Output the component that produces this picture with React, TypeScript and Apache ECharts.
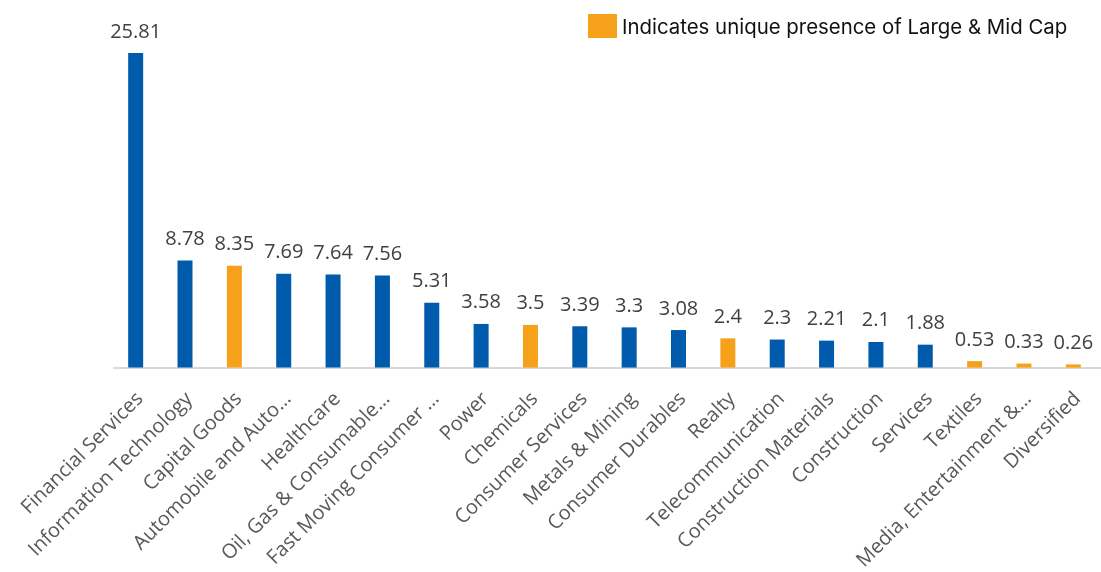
import React, { useEffect, useRef } from "react";
import * as echarts from "echarts";

const categories = [
  "Financial Services",
  "Information Technology",
  "Capital Goods",
  "Automobile and Auto…",
  "Healthcare",
  "Oil, Gas & Consumable…",
  "Fast Moving Consumer …",
  "Power",
  "Chemicals",
  "Consumer Services",
  "Metals & Mining",
  "Consumer Durables",
  "Realty",
  "Telecommunication",
  "Construction Materials",
  "Construction",
  "Services",
  "Textiles",
  "Media, Entertainment &…",
  "Diversified",
];

const values = [25.81, 8.78, 8.35, 7.69, 7.64, 7.56, 5.31, 3.58, 3.5, 3.39, 3.3, 3.08, 2.4, 2.3, 2.21, 2.1, 1.88, 0.53, 0.33, 0.26];

const uniquePresence = [false, false, true, false, false, false, false, false, true, false, false, false, true, false, false, false, false, true, true, true];

const legendName = "Indicates unique presence of Large & Mid Cap";

const BLUE = "#005BAC";
const ORANGE = "#F6A11A";

export default function App() {
  const ref = useRef<HTMLDivElement>(null);
  useEffect(() => {
    if (!ref.current) return;
    const chart = echarts.init(ref.current, undefined, { renderer: "svg" });
    chart.setOption({
      animation: false,
      grid: { left: 114, right: 0, top: 2, bottom: 199, containLabel: false },
      legend: {
        left: 583,
        top: 9,
        itemWidth: 29,
        itemHeight: 24,
        selectedMode: false,
        textStyle: { fontFamily: "Inter", fontSize: 20.4, color: "#111" },
        data: [{ name: legendName, icon: "rect", itemStyle: { color: ORANGE } }],
      },
      xAxis: {
        type: "category",
        data: categories,
        axisLine: { lineStyle: { color: "#D9D9D9", width: 2 } },
        axisTick: { show: false },
        axisLabel: {
          interval: 0,
          rotate: 45,
          margin: 27,
          color: "#595959",
          fontSize: 20,
          fontFamily: "Open Sans",
        },
      },
      yAxis: { type: "value", min: 0, max: 30, show: false, splitLine: { show: false } },
      series: [
        {
          type: "bar",
          name: "Weight",
          barWidth: 15,
          data: values.map((v, i) => ({
            value: v,
            itemStyle: { color: uniquePresence[i] ? ORANGE : BLUE },
          })),
          label: {
            show: true,
            position: "top",
            distance: 13,
            color: "#404040",
            fontSize: 20,
            fontFamily: "Open Sans",
          },
        },
        {
          type: "bar",
          name: legendName,
          data: [],
          itemStyle: { color: ORANGE },
        },
      ],
    });
    return () => chart.dispose();
  }, []);
  return <div ref={ref} style={{ position: "fixed", left: 0, top: 0, width: 1101, height: 572 }} />;
}
